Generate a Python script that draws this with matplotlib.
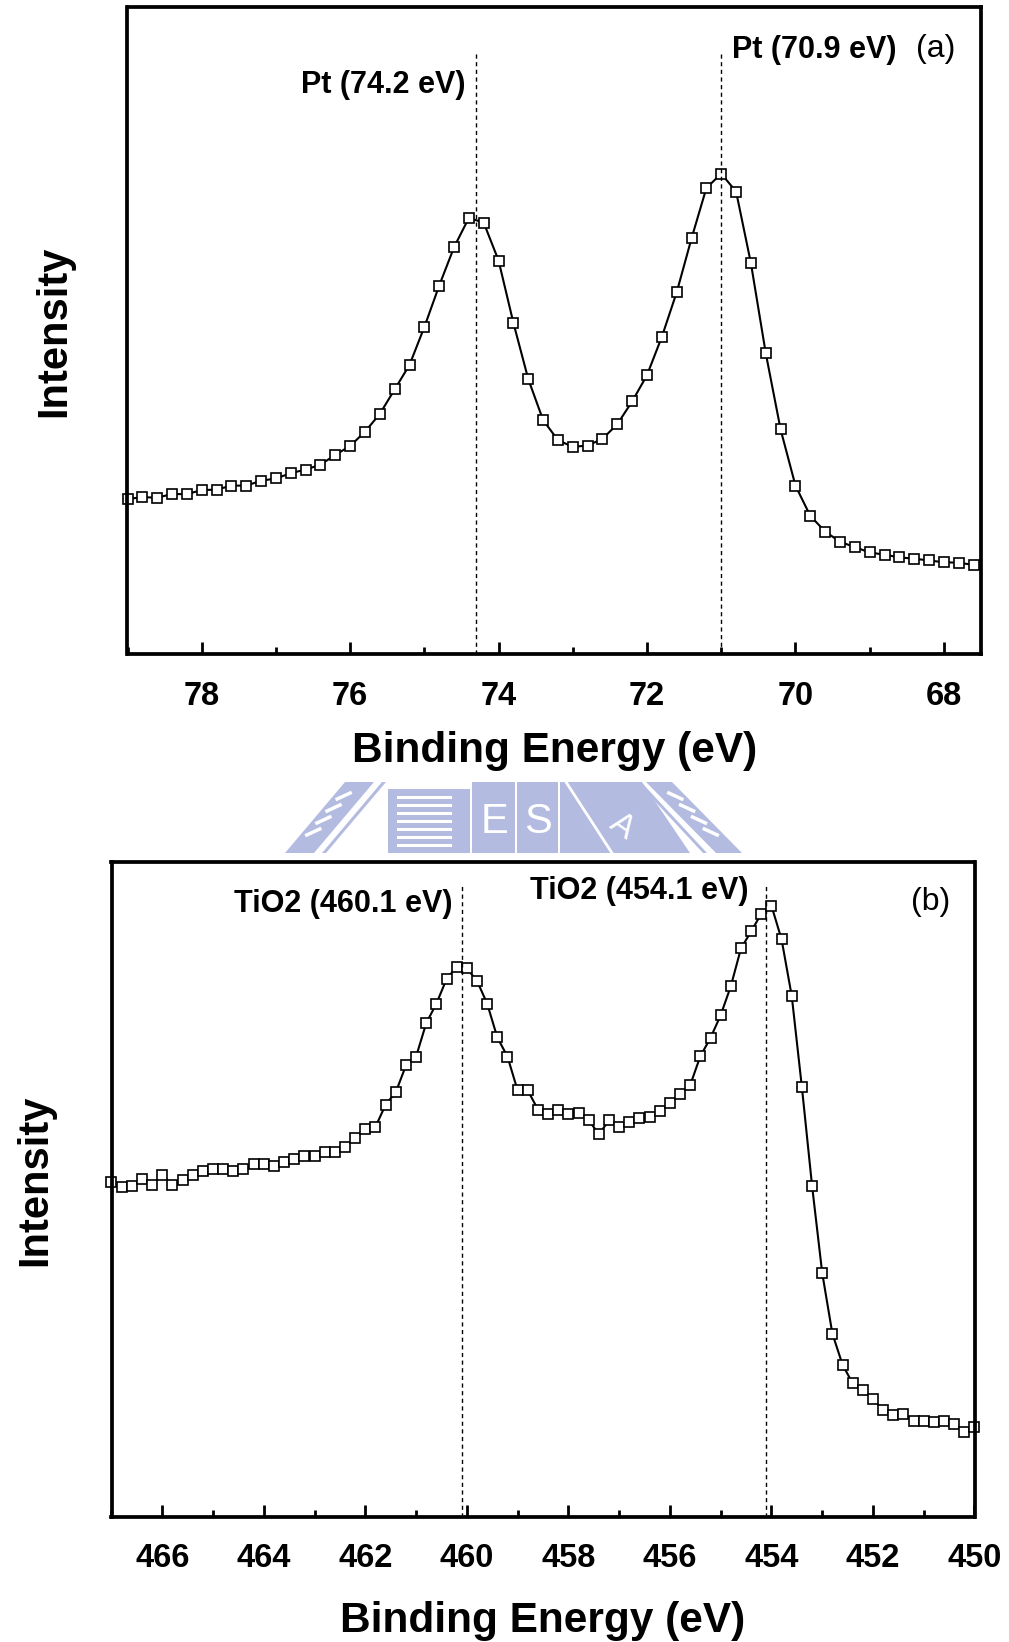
import numpy as np
import matplotlib
matplotlib.use('Agg')
import matplotlib.pyplot as plt
from matplotlib.patches import Polygon, Rectangle

plt.rcParams['font.family'] = ['Liberation Sans', 'DejaVu Sans']

# (a) Pt 4f, 0.2 eV step from 79.0 down to 67.6 eV
be_pt = np.arange(790, 675, -2) / 10.0
int_pt = [349, 353, 352, 360, 360, 369, 370, 379, 379, 390,
          395, 407, 415, 426, 448, 468, 500, 540, 595, 650,
          735, 828, 914, 980, 969, 884, 744, 618, 526, 481,
          466, 469, 484, 517, 568, 627, 713, 813, 934, 1047,
          1079, 1039, 878, 676, 505, 379, 311, 276, 253, 241,
          229, 224, 218, 215, 211, 207, 206, 201]
pt_ticks = [78, 76, 74, 72, 70, 68]
pt_minor = [79, 77, 75, 73, 71, 69]
pt_lines = [74.3, 71.0]

# (b) Ti 2p, 0.2 eV step from 467.0 down to 450.0 eV
be_ti = np.arange(4670, 4499, -2) / 10.0
int_ti = [751, 741, 743, 759, 745, 767, 745, 755, 767, 777,
          780, 780, 775, 780, 791, 791, 787, 796, 804, 810,
          810, 818, 818, 830, 850, 870, 875, 925, 953, 1013,
          1033, 1108, 1152, 1207, 1235, 1231, 1203, 1152, 1076, 1033,
          957, 957, 914, 904, 914, 904, 907, 891, 858, 890,
          875, 886, 896, 898, 910, 929, 949, 969, 1034, 1075,
          1126, 1191, 1276, 1314, 1354, 1372, 1296, 1169, 964, 743,
          547, 411, 341, 299, 283, 263, 240, 228, 230, 215,
          215, 212, 215, 208, 190, 200]
ti_ticks = [466, 464, 462, 460, 458, 456, 454, 452, 450]
ti_minor = [467, 465, 463, 461, 459, 457, 455, 453, 451]
ti_lines = [460.1, 454.1]

W, H = 1009, 1642
fig = plt.figure(figsize=(W / 100, H / 100), dpi=100)

# faint watermark between the panels (pixel coordinates)
wm = fig.add_axes([0, 0, 1, 1], zorder=0)
wm.set_xlim(0, W)
wm.set_ylim(H, 0)
wm.axis('off')
wc = '#b3bbe0'
wm.add_patch(Polygon([(285, 853), (314, 853), (374, 782), (345, 782)], color=wc, lw=0))
wm.add_patch(Polygon([(322, 853), (326, 853), (386, 782), (382, 782)], color=wc, lw=0))
wm.add_patch(Polygon([(742, 853), (716, 853), (646, 782), (672, 782)], color=wc, lw=0))
wm.add_patch(Polygon([(707, 853), (703, 853), (637, 782), (641, 782)], color=wc, lw=0))
for k in range(4):
    y0 = 796 + 12 * k
    x0 = 285 + (853 - y0) * 60 / 71.0 + 4
    wm.plot([x0, x0 + 13], [y0 + 3, y0 - 3], color='white', lw=2.5)
    x1 = 742 - (853 - y0) * 70 / 71.0 - 4
    wm.plot([x1, x1 - 13], [y0 + 3, y0 - 3], color='white', lw=2.5)
wm.add_patch(Rectangle((388, 789), 82, 64, color=wc, lw=0))
for k in range(7):
    wm.add_patch(Rectangle((397, 796 + 8 * k), 55, 3, color='white', lw=0))
wm.add_patch(Rectangle((472, 782), 43, 71, color=wc, lw=0))
wm.add_patch(Rectangle((517, 782), 41, 71, color=wc, lw=0))
wm.add_patch(Polygon([(560, 782), (642, 782), (690, 853), (560, 853)], color=wc, lw=0))
wm.plot([566, 612], [782, 853], color='white', lw=2)
wm.text(494, 822, 'E', color='white', fontsize=30, ha='center', va='center')
wm.text(538, 822, 'S', color='white', fontsize=30, ha='center', va='center')
wm.text(622, 826, 'A', color='white', fontsize=24, ha='center', va='center', rotation=-35)


def make_panel(rect, be, inten, ylim, xlim, ticks, minor, lines, line_top):
    ax = fig.add_axes(rect, zorder=1)
    ax.plot(be, inten, color='black', lw=1.5, marker='s', ms=7.5,
            mfc='white', mec='black', mew=1.2, clip_on=False)
    for x in lines:
        ax.axvline(x, ymin=0, ymax=line_top, color='black', lw=1.0, ls=(0, (3, 2.5)))
    ax.set_xlim(*xlim)
    ax.set_ylim(*ylim)
    ax.set_yticks([])
    ax.set_xticks(ticks, labels=[str(t) for t in ticks], fontweight='bold')
    ax.set_xticks(minor, minor=True)
    ax.tick_params(axis='x', which='both', direction='in', width=2, pad=19, labelsize=23.5)
    ax.tick_params(axis='x', which='major', length=8.5)
    ax.tick_params(axis='x', which='minor', length=5)
    for s in ax.spines.values():
        s.set_linewidth(2.7)
    ax.set_xlabel('Binding Energy (eV)', fontsize=30.5, fontweight='bold', va='center')
    ax.set_ylabel('Intensity', fontsize=30, fontweight='bold', va='center', ha='center')
    return ax


ax1 = make_panel([127.5 / W, 1 - 654.5 / H, 853.5 / W, 647 / H], be_pt, int_pt,
                 (0, 1452), (79.0, 67.5), pt_ticks, pt_minor, pt_lines, 0.929)
ax1.xaxis.set_label_coords(0.5, -0.149)
ax1.yaxis.set_label_coords(-0.086, 0.5)
ax1.text(74.45, 1277, 'Pt (74.2 eV)', fontsize=22, fontweight='bold', ha='right', va='center')
ax1.text(70.86, 1357, 'Pt (70.9 eV)', fontsize=22, fontweight='bold', ha='left', va='center')
ax1.text(68.11, 1359, '(a)', fontsize=23, ha='center', va='center')

ax2 = make_panel([111.5 / W, 1 - 1516.5 / H, 863 / W, 654.5 / H], be_ti, int_ti,
                 (0, 1470), (467.0, 450.0), ti_ticks, ti_minor, ti_lines, 0.965)
ax2.xaxis.set_label_coords(0.5, -0.160)
ax2.yaxis.set_label_coords(-0.088, 0.514)
ax2.text(460.28, 1375, 'TiO2 (460.1 eV)', fontsize=22, fontweight='bold', ha='right', va='center')
ax2.text(458.75, 1405, 'TiO2 (454.1 eV)', fontsize=22, fontweight='bold', ha='left', va='center')
ax2.text(450.86, 1380, '(b)', fontsize=23, ha='center', va='center')

fig.savefig('out.png', dpi=100)
